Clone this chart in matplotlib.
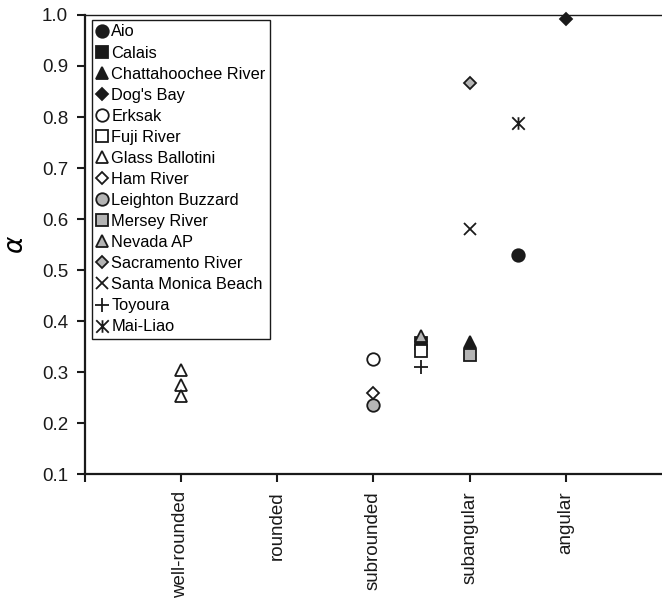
import matplotlib
matplotlib.use("Agg")
import matplotlib.pyplot as plt
from matplotlib.path import Path

plt.rcParams['font.family'] = ['Liberation Sans', 'DejaVu Sans']

# roundness classes on the x axis
classes = ['well-rounded', 'rounded', 'subrounded', 'subangular', 'angular']
class_pos = [1, 2, 3, 4, 5]

# sand names, x position (roundness) and alpha values
names = ['Aio', 'Calais', 'Chattahoochee River', "Dog's Bay", 'Erksak',
         'Fuji River', 'Glass Ballotini', 'Ham River', 'Leighton Buzzard',
         'Mersey River', 'Nevada AP', 'Sacramento River',
         'Santa Monica Beach', 'Toyoura', 'Mai-Liao']
xpos = [[4.5], [3.5], [4], [5], [3],
        [3.5], [1, 1, 1], [3], [3],
        [4], [3.5], [4],
        [4], [3.5], [4.5]]
alpha = [[0.530], [0.357], [0.359], [0.993], [0.325],
         [0.341], [0.305, 0.275, 0.253], [0.259], [0.235],
         [0.333], [0.371], [0.866],
         [0.581], [0.310], [0.789]]

asterisk = Path([(0, -1), (0, 1), (-1, -1), (1, 1), (-1, 1), (1, -1)],
                [Path.MOVETO, Path.LINETO, Path.MOVETO, Path.LINETO,
                 Path.MOVETO, Path.LINETO])

blk = '#1a1a1a'
gry = '#b4b4b4'
styles = [('o', blk, 9), ('s', blk, 8), ('^', blk, 9), ('D', blk, 6.5),
          ('o', 'white', 9), ('s', 'white', 8), ('^', 'white', 9), ('D', 'white', 6.5),
          ('o', gry, 9), ('s', gry, 8), ('^', gry, 9), ('D', gry, 6.5),
          ('x', blk, 9), ('+', blk, 10), (asterisk, blk, 9)]

fig = plt.figure(figsize=(6.62, 5.98), dpi=100)
ax = fig.add_axes([0.128, 0.207, 0.872, 0.768])

for i in range(len(names)):
    m, fc, ms = styles[i]
    ax.plot(xpos[i], alpha[i], linestyle='none', marker=m, markersize=ms,
            markerfacecolor=fc, markeredgecolor='#1a1a1a', markeredgewidth=1.3,
            label=names[i], clip_on=False)

ax.set_xlim(0, 6)
ax.set_ylim(0.1, 1.0)
ax.set_xticks([0] + class_pos)
ax.set_xticklabels([''] + classes, rotation=90, fontsize=13.5)
ax.set_yticks([0.1, 0.2, 0.3, 0.4, 0.5, 0.6, 0.7, 0.8, 0.9, 1.0])
ax.set_yticklabels(['0.1', '0.2', '0.3', '0.4', '0.5', '0.6', '0.7', '0.8', '0.9', '1.0'],
                   fontsize=13.5)
ax.tick_params(direction='out', length=6, width=1.5, color='#1a1a1a',
               labelcolor='#1a1a1a', pad=6)
ax.set_ylabel(r'$\alpha$', fontsize=19, labelpad=10)

ax.spines['right'].set_visible(False)
ax.spines['left'].set_linewidth(1.6)
ax.spines['bottom'].set_linewidth(1.6)
ax.spines['top'].set_linewidth(1.0)
for s in ax.spines.values():
    s.set_color('#1a1a1a')

leg = ax.legend(loc='upper left', bbox_to_anchor=(0.012, 0.99), borderaxespad=0,
                fontsize=11.8, handlelength=0.7, handletextpad=0.2, labelspacing=0.37,
                borderpad=0.3, fancybox=False, framealpha=1, edgecolor='#1a1a1a')
leg.get_frame().set_linewidth(1.0)

fig.savefig('out.png', dpi=100)
